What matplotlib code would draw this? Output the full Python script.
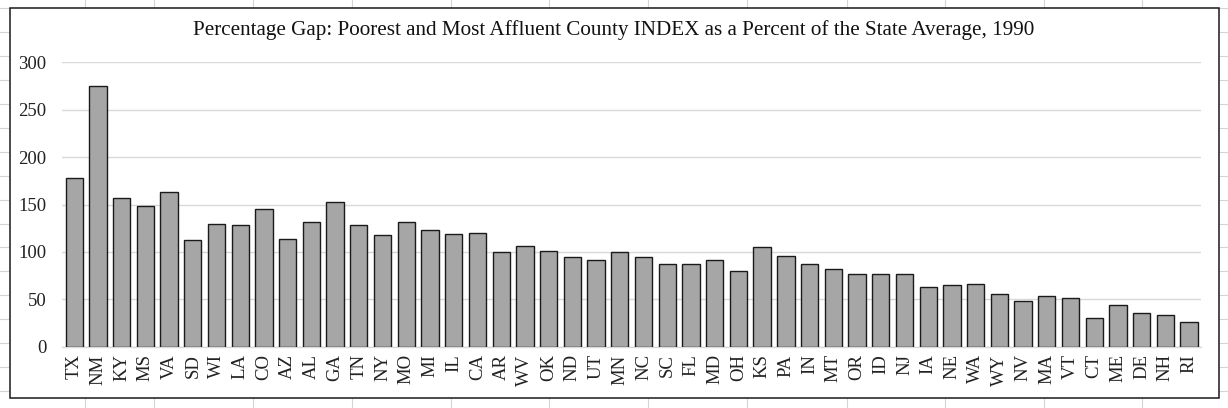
import matplotlib
matplotlib.use('Agg')
import matplotlib.pyplot as plt
from matplotlib.lines import Line2D
from matplotlib.patches import Rectangle

plt.rcParams['font.family'] = ['Liberation Serif', 'DejaVu Serif']

# estados na ordem do grafico
estados = ['TX', 'NM', 'KY', 'MS', 'VA', 'SD', 'WI', 'LA', 'CO', 'AZ', 'AL', 'GA', 'TN',
           'NY', 'MO', 'MI', 'IL', 'CA', 'AR', 'WV', 'OK', 'ND', 'UT', 'MN', 'NC', 'SC',
           'FL', 'MD', 'OH', 'KS', 'PA', 'IN', 'MT', 'OR', 'ID', 'NJ', 'IA', 'NE', 'WA',
           'WY', 'NV', 'MA', 'VT', 'CT', 'ME', 'DE', 'NH', 'RI']
gap_pct = [178, 275, 157, 148, 163, 113, 129, 128, 145, 114, 132, 153, 128,
           118, 132, 123, 119, 120, 100, 106, 101, 95, 91, 100, 95, 87,
           87, 91, 80, 105, 96, 87, 82, 77, 77, 77, 63, 65, 66,
           56, 48, 54, 51, 30, 44, 36, 33, 26]
y_ticks = [0, 50, 100, 150, 200, 250, 300]
titulo = 'Percentage Gap: Poorest and Most Affluent County INDEX as a Percent of the State Average, 1990'

W, H = 1228, 408
fig = plt.figure(figsize=(W / 100, H / 100), dpi=100)
fig.patch.set_facecolor('white')

# linhas da planilha por tras do grafico
cor_cel = '#d4d4d4'
for cx in [85, 154, 253, 352, 451, 549, 648, 747, 847, 945, 1044, 1142]:
    fig.add_artist(Line2D([cx / W, cx / W], [0, 1], transform=fig.transFigure,
                          color=cor_cel, lw=0.8, zorder=0))
for k in range(17):
    ry = 8.4 + 23.9 * k
    fig.add_artist(Line2D([0, 1], [1 - ry / H, 1 - ry / H], transform=fig.transFigure,
                          color=cor_cel, lw=0.8, zorder=0))

# caixa do grafico
bx0, by0, bx1, by1 = 10, 8, 1219, 398
fig.add_artist(Rectangle((bx0 / W, 1 - by1 / H), (bx1 - bx0) / W, (by1 - by0) / H,
                         transform=fig.transFigure, facecolor='white',
                         edgecolor='#1a1a1a', lw=1.1, zorder=1))

# area do plot
px0, px1 = 62.3, 1201
py_zero, py_top = 346.7, 62.3
ax = fig.add_axes([px0 / W, 1 - py_zero / H, (px1 - px0) / W, (py_zero - py_top) / H])
ax.set_zorder(2)
ax.patch.set_visible(False)

x = range(len(estados))
ax.bar(x, gap_pct, width=0.73, color='#a6a6a6', edgecolor='#1a1a1a', linewidth=1.0, zorder=3)

ax.set_xlim(-0.5, len(estados) - 0.5)
ax.set_ylim(0, 300)
ax.set_yticks(y_ticks)
ax.set_yticklabels([str(t) for t in y_ticks], fontsize=13.5)
ax.set_xticks(list(x))
ax.set_xticklabels(estados, rotation=90, fontsize=13.5)
ax.tick_params(axis='both', length=0, colors='#222222')
ax.tick_params(axis='y', pad=11.5)
ax.tick_params(axis='x', pad=5.5)
ax.grid(axis='y', color='#d9d9d9', linewidth=1.0, zorder=0)
ax.set_axisbelow(True)
for s in ['top', 'right', 'left']:
    ax.spines[s].set_visible(False)
ax.spines['bottom'].set_color('#d9d9d9')
ax.spines['bottom'].set_linewidth(1.0)

fig.text(614 / W, 1 - 30 / H, titulo, ha='center', va='center', fontsize=15.2, color='#111111')

fig.savefig('out.png', dpi=100)
